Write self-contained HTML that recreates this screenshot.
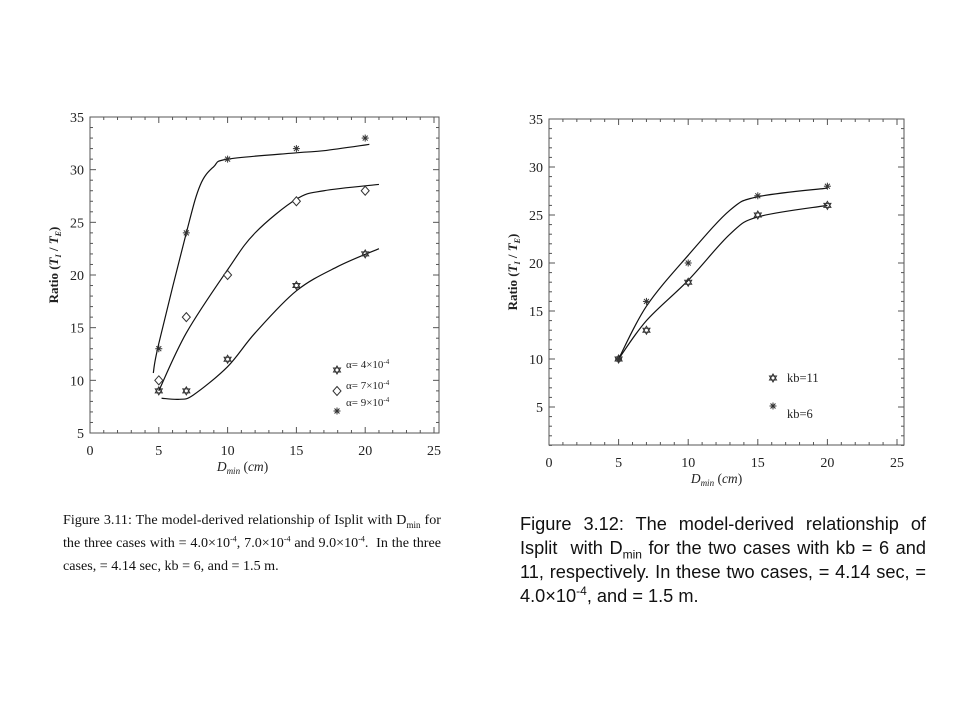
<!DOCTYPE html>
<html><head><meta charset="utf-8"><style>
body{margin:0;background:#fff;width:960px;height:720px;overflow:hidden;position:relative}
svg{position:absolute;left:0;top:0}
.cap{position:absolute;text-align:justify;color:#111}
.cap sub,.cap sup{line-height:0}
.cap1{left:63px;top:509px;width:378px;font:14.1px/23px "Liberation Serif",serif}
.cap2{left:520px;top:512px;width:406px;font:18.2px/24px "Liberation Sans",sans-serif}
</style></head><body>
<svg id="chart" width="960" height="720" font-family="Liberation Serif, serif"></svg>
<div class="cap cap1">Figure 3.11: The model-derived relationship of Isplit with D<sub style="font-size:9px">min</sub> for the three cases with = 4.0×10<sup style="font-size:8px">-4</sup>, 7.0×10<sup style="font-size:8px">-4</sup> and 9.0×10<sup style="font-size:8px">-4</sup>.&nbsp; In the three cases, = 4.14 sec, kb = 6, and = 1.5 m.</div>
<div class="cap cap2">Figure 3.12: The model-derived relationship of Isplit&nbsp; with D<sub style="font-size:12px">min</sub> for the two cases with kb = 6 and 11, respectively. In these two cases, = 4.14 sec, = 4.0×10<sup style="font-size:12px">-4</sup>, and = 1.5 m.</div>
<script>
// Left chart data
const xCats = [5, 7, 10, 15, 20];
const a4Vals = [9, 9, 12, 19, 22];
const a7Vals = [10, 16, 20, 27, 28];
const a9Vals = [13, 24, 31, 32, 33];
const a4CurveX = [5.2, 6.5, 7.5, 10, 12, 15, 18, 21];
const a4CurveY = [8.3, 8.2, 8.6, 11.3, 14.5, 18.5, 20.8, 22.5];
const a7CurveX = [5, 7, 10, 12, 15, 17, 21];
const a7CurveY = [9, 14.5, 20.5, 24, 27.2, 28, 28.6];
const a9CurveX = [4.6, 5, 7, 8, 9, 10, 15, 17, 20.3];
const a9CurveY = [10.7, 13.5, 24, 28.5, 30.3, 31, 31.6, 31.8, 32.4];
// Right chart data
const kb11Vals = [10, 13, 18, 25, 26];
const kb6Vals = [10, 16, 20, 27, 28];
const kb11CurveX = [5, 7, 10, 13, 15, 20];
const kb11CurveY = [10, 14, 18.2, 23, 24.8, 26];
const kb6CurveX = [5, 7, 10, 13, 15, 20];
const kb6CurveY = [10, 15.5, 20.8, 25.5, 26.9, 27.8];
const xTicks = [0, 5, 10, 15, 20, 25];
const yTicks = [5, 10, 15, 20, 25, 30, 35];

const NS = 'http://www.w3.org/2000/svg';
const svg = document.getElementById('chart');
function mk(tag, attrs, parent, text) {
  const e = document.createElementNS(NS, tag);
  for (const k in attrs) e.setAttribute(k, attrs[k]);
  if (text !== undefined) e.textContent = text;
  (parent || svg).appendChild(e);
  return e;
}
function smooth(pts) {
  let d = 'M' + pts[0][0] + ',' + pts[0][1];
  for (let i = 0; i < pts.length - 1; i++) {
    const p0 = pts[i - 1] || pts[i], p1 = pts[i], p2 = pts[i + 1], p3 = pts[i + 2] || p2;
    const c1 = [p1[0] + (p2[0] - p0[0]) / 6, p1[1] + (p2[1] - p0[1]) / 6];
    const c2 = [p2[0] - (p3[0] - p1[0]) / 6, p2[1] - (p3[1] - p1[1]) / 6];
    d += 'C' + c1 + ' ' + c2 + ' ' + p2;
  }
  return d;
}
function marker(type, x, y, g) {
  if (type === 'hex') {
    mk('polygon', {points: `${x},${y-4} ${x+3.5},${y+2} ${x-3.5},${y+2}`, fill: 'none', stroke: '#333', 'stroke-width': 1}, g);
    mk('polygon', {points: `${x},${y+4} ${x+3.5},${y-2} ${x-3.5},${y-2}`, fill: 'none', stroke: '#333', 'stroke-width': 1}, g);
  } else if (type === 'diamond') {
    mk('polygon', {points: `${x},${y-4.5} ${x+4},${y} ${x},${y+4.5} ${x-4},${y}`, fill: '#fff', stroke: '#333', 'stroke-width': 1}, g);
  } else {
    for (let a = 0; a < 180; a += 45) {
      const r = a * Math.PI / 180, dx = 3.5 * Math.cos(r), dy = 3.5 * Math.sin(r);
      mk('line', {x1: x - dx, y1: y - dy, x2: x + dx, y2: y + dy, stroke: '#333', 'stroke-width': 1}, g);
    }
  }
}
function axes(cfg) {
  const {x0, x1, y0, y1, boxR, boxB, yMin, name} = cfg;
  const sx = v => x0 + (v - 0) * (x1 - x0) / 25;
  const sy = v => y0 - (v - 5) * (y0 - y1) / 30;
  const g = mk('g', {});
  
  
  const top = y1, bottom = boxB;
  mk('rect', {x: x0, y: top, width: boxR - x0, height: bottom - top, fill: 'none', stroke: '#555', 'stroke-width': 1}, g);
  for (let v = 0; v <= 25; v++) {
    const L = v % 5 === 0 ? 6 : 3;
    mk('line', {x1: sx(v), y1: bottom, x2: sx(v), y2: bottom - L, stroke: '#555'}, g);
    mk('line', {x1: sx(v), y1: top, x2: sx(v), y2: top + L, stroke: '#555'}, g);
  }
  for (let v = yMin; v <= 35; v++) {
    const L = v % 5 === 0 ? 6 : 3;
    mk('line', {x1: x0, y1: sy(v), x2: x0 + L, y2: sy(v), stroke: '#555'}, g);
    mk('line', {x1: boxR, y1: sy(v), x2: boxR - L, y2: sy(v), stroke: '#555'}, g);
  }
  xTicks.forEach(v => {
    const t = mk('text', {x: sx(v), y: bottom + 22, 'text-anchor': 'middle', 'font-size': 14, fill: '#222'}, g, String(v));
    
    
  });
  yTicks.forEach(v => {
    const t = mk('text', {x: x0 - 6, y: sy(v) + 5, 'text-anchor': 'end', 'font-size': 14, fill: '#222'}, g, String(v));
    
    
  });
  const xt = mk('text', {x: (x0 + boxR) / 2 + cfg.xtOff, y: bottom + 38, 'text-anchor': 'middle', 'font-size': 13.5, fill: '#222'}, g);
  
  
  xt.innerHTML = '<tspan font-style="italic">D</tspan><tspan font-style="italic" font-size="9" dy="3">min</tspan><tspan dy="-3"> (</tspan><tspan font-style="italic">cm</tspan><tspan>)</tspan>';
  const yc = (top + bottom) / 2 - 10;
  const yt = mk('text', {x: 0, y: 0, transform: `translate(${x0 - 32},${yc}) rotate(-90)`, 'text-anchor': 'middle', 'font-size': 13, 'font-weight': 'bold', fill: '#222'}, g);
  
  
  yt.innerHTML = 'Ratio (<tspan font-style="italic">T</tspan><tspan font-size="8" dy="3" font-style="italic">I</tspan><tspan dy="-3"> / </tspan><tspan font-style="italic">T</tspan><tspan font-size="8" dy="3" font-style="italic">E</tspan><tspan dy="-3">)</tspan>';
  return {sx, sy};
}
function series(ax, name, vals, cx, cy, type) {
  const g = mk('g', {});
  
  
  const p = mk('path', {d: smooth(cx.map((x, i) => [ax.sx(x), ax.sy(cy[i])])), fill: 'none', stroke: '#111', 'stroke-width': 1.2}, g);
  
  
  xCats.forEach((x, i) => marker(type, ax.sx(x), ax.sy(vals[i]), g));
}
// Left
const L = axes({x0: 90, x1: 434, y0: 433, y1: 117, boxR: 439, boxB: 433, yMin: 5, name: 'left-chart', xtOff: -22});
series(L, 'series-alpha-4', a4Vals, a4CurveX, a4CurveY, 'hex');
series(L, 'series-alpha-7', a7Vals, a7CurveX, a7CurveY, 'diamond');
series(L, 'series-alpha-9', a9Vals, a9CurveX, a9CurveY, 'star');
const lg = mk('g', {'font-size': 11, fill: '#222'});


[['hex', 370, '4'], ['diamond', 391, '7'], ['star', 411, '9']].forEach(([t, y, n], i) => {
  marker(t, 337, y, lg);
  const tx = mk('text', {x: 346, y: y - 2 + (i === 2 ? -3 : 0)}, lg);
  tx.innerHTML = `α= ${n}×10<tspan font-size="7" dy="-4">-4</tspan>`;
});
// Right
const R = axes({x0: 549, x1: 897, y0: 407, y1: 119, boxR: 904, boxB: 445, yMin: 1, name: 'right-chart', xtOff: -10});
series(R, 'series-kb-11', kb11Vals, kb11CurveX, kb11CurveY, 'hex');
series(R, 'series-kb-6', kb6Vals, kb6CurveX, kb6CurveY, 'star');
const rg = mk('g', {'font-size': 12.5, fill: '#222'});


marker('hex', 773, 378, rg);
mk('text', {x: 787, y: 382}, rg, 'kb=11');
marker('star', 773, 406, rg);
mk('text', {x: 787, y: 418}, rg, 'kb=6');
</script>
</body></html>
